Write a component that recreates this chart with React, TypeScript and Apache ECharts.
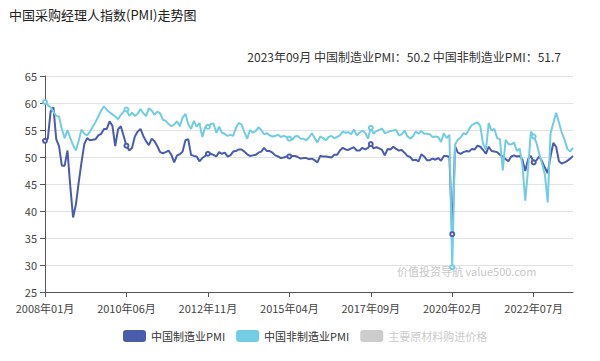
import React, { useEffect, useRef } from "react";
import * as echarts from "echarts";

const manufacturing: number[] = [
  53.0, 53.4, 58.4, 59.2, 53.3, 52.0, 48.4, 48.4, 51.2, 44.6, 38.8, 41.2,
  45.3, 49.0, 52.4, 53.5, 53.1, 53.2, 53.3, 54.0, 54.3, 55.2, 55.2, 56.6,
  55.8, 52.0, 55.1, 55.7, 53.9, 52.1, 51.2, 51.7, 53.8, 54.7, 55.2, 53.9,
  52.9, 52.2, 53.4, 52.9, 52.0, 50.9, 50.7, 50.9, 51.2, 50.4, 49.0, 50.3,
  50.5, 51.0, 53.1, 53.3, 50.4, 50.2, 50.1, 49.2, 49.8, 50.2, 50.6, 50.6,
  50.4, 50.1, 50.9, 50.6, 50.8, 50.1, 50.3, 51.0, 51.1, 51.4, 51.4, 51.0,
  50.5, 50.2, 50.3, 50.4, 50.8, 51.0, 51.7, 51.1, 51.1, 50.8, 50.3, 50.1,
  49.8, 49.9, 50.1, 50.1, 50.2, 50.2, 50.0, 49.7, 49.8, 49.8, 49.6, 49.7,
  49.4, 49.0, 50.2, 50.1, 50.1, 50.0, 49.9, 50.4, 50.4, 51.2, 51.7, 51.4,
  51.3, 51.6, 51.8, 51.2, 51.2, 51.7, 51.4, 51.7, 52.4, 51.6, 51.8, 51.6,
  51.3, 50.3, 51.5, 51.4, 51.9, 51.5, 51.2, 51.3, 50.8, 50.2, 50.0, 49.4,
  49.5, 49.2, 50.5, 50.1, 49.4, 49.4, 49.7, 49.5, 49.8, 49.3, 50.2, 50.2,
  50.0, 35.7, 52.0, 50.8, 50.6, 50.9, 51.1, 51.0, 51.5, 51.4, 52.1, 51.9,
  51.3, 50.6, 51.9, 51.1, 51.0, 50.9, 50.4, 50.1, 49.6, 49.2, 50.1, 50.3,
  50.1, 50.2, 49.5, 47.4, 49.6, 50.2, 49.0, 49.4, 50.1, 49.2, 48.0, 47.0,
  50.1, 52.6, 51.9, 49.2, 48.8, 49.0, 49.3, 49.7, 50.2,
];

const nonManufacturing: number[] = [
  60.2, 59.6, 59.2, 58.4, 57.6, 57.5, 55.2, 53.5, 55.0, 53.5, 52.2, 51.2,
  53.0, 55.1, 54.3, 54.0, 54.7, 55.6, 56.5, 57.5, 58.6, 59.4, 58.7, 58.3,
  57.9, 57.5, 57.0, 57.8, 58.4, 58.8, 57.6, 58.2, 57.6, 58.0, 58.9, 58.1,
  57.6, 59.0, 58.6, 57.8, 58.4, 58.1, 56.9, 56.7, 56.1, 55.7, 56.0, 56.6,
  55.7, 57.3, 58.0, 56.1, 55.2, 56.7, 55.6, 56.3, 53.7, 55.5, 55.6, 56.1,
  56.2, 54.5, 55.6, 54.5, 54.3, 53.9, 54.1, 53.9, 55.4, 56.3, 56.0, 54.6,
  53.4, 55.0, 54.5, 54.8, 55.5, 55.0, 54.2, 54.4, 54.0, 53.8, 53.9, 54.1,
  53.7, 53.9, 53.7, 53.4, 53.2, 53.8, 53.9, 53.4, 53.4, 53.1, 53.6, 54.4,
  53.5, 52.7, 53.8, 53.5, 53.1, 53.7, 53.9, 53.5, 53.7, 54.0, 54.7, 54.5,
  54.6, 54.2, 55.1, 54.0, 54.5, 54.9, 54.5, 53.4, 55.4, 54.3, 54.8, 55.0,
  55.3, 54.4, 54.6, 54.8, 54.9, 55.0, 54.0, 54.2, 54.9, 53.9, 53.4, 53.8,
  54.7, 54.3, 54.8, 54.3, 54.3, 54.2, 53.7, 53.8, 53.7, 52.8, 54.4, 53.5,
  54.1, 29.6, 52.3, 53.2, 53.6, 54.4, 54.2, 55.2, 55.9, 56.2, 56.4, 55.7,
  52.4, 51.4, 56.3, 54.9, 55.2, 53.5, 53.3, 47.5, 53.2, 52.4, 52.3, 52.7,
  51.1, 51.6, 48.4, 41.9, 47.8, 54.7, 53.8, 52.6, 50.6, 48.7, 46.7, 41.6,
  54.4, 56.3, 58.2, 56.4, 54.5, 53.2, 51.5, 51.0, 51.7,
];

const rawMaterialPrice: number[] = [];

const startYear = 2008;
const months: string[] = manufacturing.map((_, i) => {
  const y = startYear + Math.floor(i / 12);
  const m = (i % 12) + 1;
  return `${y}年${m < 10 ? "0" + m : m}月`;
});

const seriesNames = ["中国制造业PMI", "中国非制造业PMI", "主要原材料购进价格"];
const titleText = "中国采购经理人指数(PMI)走势图";
const latestText = `${months[months.length - 1]} 中国制造业PMI：${manufacturing[manufacturing.length - 1].toFixed(1)} 中国非制造业PMI：${nonManufacturing[nonManufacturing.length - 1].toFixed(1)}`;
const watermark = "价值投资导航 value500.com";

const FONT = "'Noto Sans CJK SC', 'Noto Sans', sans-serif";

export default function App() {
  const ref = useRef<HTMLDivElement>(null);
  useEffect(() => {
    document.body.style.margin = "0";
    if (!ref.current) return;
    const chart = echarts.init(ref.current, null, { renderer: "svg" });
    chart.setOption({
      animation: false,
      backgroundColor: "#ffffff",
      textStyle: { fontFamily: FONT },
      title: [
        {
          text: titleText,
          left: 4,
          top: 3,
          textStyle: { fontSize: 13, fontWeight: "normal", color: "#222", fontFamily: FONT },
        },
        {
          text: latestText,
          right: 34,
          top: 45,
          textStyle: { fontSize: 12, fontWeight: "normal", color: "#333", fontFamily: FONT },
        },
      ],
      legend: {
        bottom: 14,
        left: 118,
        icon: "roundRect",
        itemWidth: 23,
        itemHeight: 12,
        itemGap: 11,
        data: seriesNames,
        selected: { [seriesNames[2]]: false },
        textStyle: { fontSize: 11, color: "#333", fontFamily: FONT },
        inactiveColor: "#ccc",
      },
      grid: { left: 45, right: 27, top: 76, bottom: 69, containLabel: false },
      xAxis: {
        type: "category",
        boundaryGap: false,
        data: months,
        axisLine: { show: true, lineStyle: { color: "#555" } },
        axisTick: { show: true, interval: 28, lineStyle: { color: "#555" } },
        axisLabel: { interval: 28, margin: 10, color: "#444", fontSize: 11, fontFamily: FONT },
      },
      yAxis: {
        type: "value",
        min: 25,
        max: 65,
        interval: 5,
        axisLine: { show: true, lineStyle: { color: "#555" } },
        axisTick: { show: true, lineStyle: { color: "#555" } },
        axisLabel: { color: "#444", fontSize: 11, fontFamily: FONT },
        splitLine: { show: true, lineStyle: { color: "#e2e2e2" } },
      },
      graphic: [
        {
          type: "text",
          left: 397,
          top: 265,
          style: { text: watermark, fontSize: 11, fill: "#c8c8c8", fontFamily: FONT },
          silent: true,
        },
      ],
      series: [
        {
          name: seriesNames[0],
          type: "line",
          data: manufacturing,
          symbol: "emptyCircle",
          symbolSize: 4,
          itemStyle: { color: "#4b5cad", borderWidth: 1 },
          lineStyle: { width: 2, color: "#4b5cad" },
        },
        {
          name: seriesNames[1],
          type: "line",
          data: nonManufacturing,
          symbol: "emptyCircle",
          symbolSize: 4,
          itemStyle: { color: "#72cde4", borderWidth: 1 },
          lineStyle: { width: 2, color: "#72cde4" },
        },
        {
          name: seriesNames[2],
          type: "line",
          data: rawMaterialPrice,
          symbol: "emptyCircle",
          symbolSize: 4,
          itemStyle: { color: "#bbbbbb", borderWidth: 1 },
          lineStyle: { width: 2, color: "#bbbbbb" },
        },
      ],
    });
    return () => chart.dispose();
  }, []);
  return <div ref={ref} style={{ width: 600, height: 361 }} />;
}
